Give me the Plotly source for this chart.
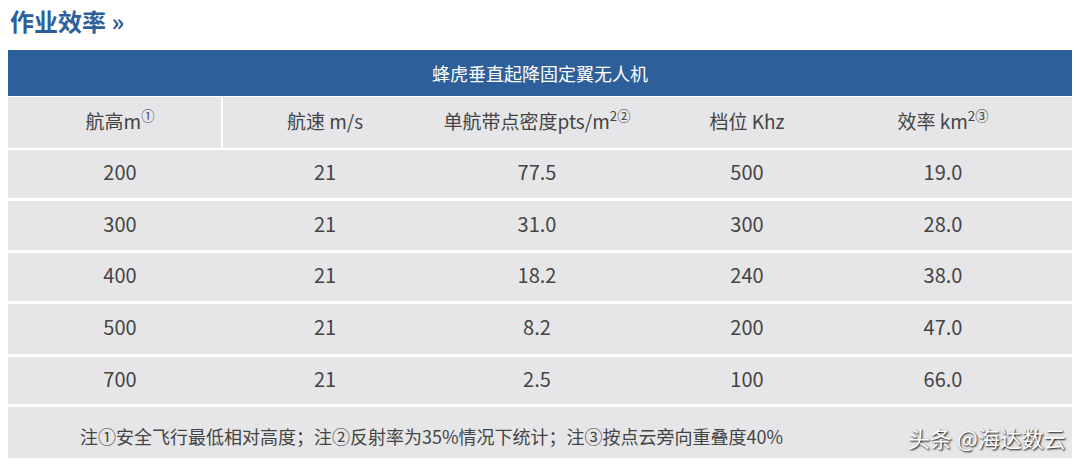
import plotly.graph_objects as go

W, H = 1080, 469
columns = ["航高m<sup>①</sup>", "航速 m/s", "单航带点密度pts/m<sup>2②</sup>", "档位 Khz", "效率 km<sup>2③</sup>"]
height_m = ["200", "300", "400", "500", "700"]
speed = ["21", "21", "21", "21", "21"]
density = ["77.5", "31.0", "18.2", "8.2", "2.5"]
khz = ["500", "300", "240", "200", "100"]
efficiency = ["19.0", "28.0", "38.0", "47.0", "66.0"]
note = "注①安全飞行最低相对高度；注②反射率为35%情况下统计；注③按点云旁向重叠度40%"

col_x = [120, 325, 537, 747, 943]
row_bands = [(150, 198), (201, 250), (253, 301), (304, 354), (357, 404)]
blue = "#2d5f9a"
gray = "#e6e6e8"
font = "Noto Sans CJK SC"

fig = go.Figure()
shapes = [
    dict(type="rect", x0=8, x1=1072, y0=50, y1=96, fillcolor=blue, line_width=0),
    dict(type="rect", x0=8, x1=1072, y0=97, y1=148, fillcolor=gray, line_width=0),
    dict(type="rect", x0=8, x1=1072, y0=407, y1=458, fillcolor=gray, line_width=0),
    dict(type="line", x0=222, x1=222, y0=97, y1=148, line=dict(color="white", width=2)),
]
for y0, y1 in row_bands:
    shapes.append(dict(type="rect", x0=8, x1=1072, y0=y0, y1=y1, fillcolor=gray, line_width=0))
for s in shapes:
    s["layer"] = "below"

# header + body text
fig.add_trace(go.Scatter(x=col_x, y=[124] * 5, mode="text", text=columns,
                         textfont=dict(size=19, color="#444", family=font)))
for i, vals in enumerate(zip(height_m, speed, density, khz, efficiency)):
    y0, y1 = row_bands[i]
    fig.add_trace(go.Scatter(x=col_x, y=[(y0 + y1) / 2 + 1] * 5, mode="text", text=list(vals),
                             textfont=dict(size=20, color="#444", family=font)))

ann = [
    dict(x=8, y=20, text="<b>作业效率 »</b>", xanchor="left", font=dict(size=24, color=blue, family=font)),
    dict(x=540, y=73, text="蜂虎垂直起降固定翼无人机", font=dict(size=18, color="white", family=font)),
    dict(x=78, y=436, text=note, xanchor="left", font=dict(size=18, color="#444", family=font)),
    dict(x=1068, y=437, text="头条 @海达数云", xanchor="right",
         font=dict(size=22, color="white", family=font, shadow="1px 1px 2px #000")),
]
for a in ann:
    a.update(xref="x", yref="y", showarrow=False)

fig.update_layout(
    width=W, height=H, margin=dict(l=0, r=0, t=0, b=0),
    paper_bgcolor="white", plot_bgcolor="white", showlegend=False,
    shapes=shapes, annotations=ann,
    xaxis=dict(range=[8, W + 8], visible=False, fixedrange=True),
    yaxis=dict(range=[H + 8, 8], visible=False, fixedrange=True),
)
fig.write_html("out.html", config={"displayModeBar": False})
